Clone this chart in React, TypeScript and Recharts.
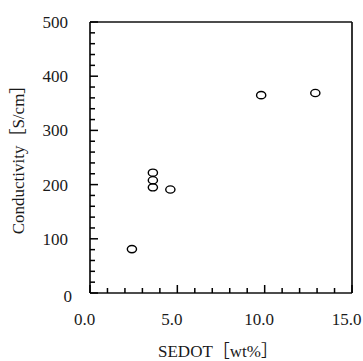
import React from "react";
import { ScatterChart, Scatter, XAxis, YAxis, ReferenceLine } from "recharts";

const sedot = [2.4, 3.6, 3.6, 3.6, 4.6, 9.8, 12.9];
const conductivity = [81, 222, 208, 195, 191, 365, 369];
const xTicks = [0, 1, 2, 3, 4, 5, 6, 7, 8, 9, 10, 11, 12, 13, 14, 15];
const xLabels = [0, 5, 10, 15];
const yTicks = [0, 20, 40, 60, 80, 100, 120, 140, 160, 180, 200, 220, 240, 260, 280, 300, 320, 340, 360, 380, 400, 420, 440, 460, 480, 500];
const yLabels = [0, 100, 200, 300, 400, 500];
const xMax = 15;
const yMax = 500;

const data = sedot.map((x, i) => ({ x, y: conductivity[i] }));

const FONT = "'Liberation Serif', 'Noto Sans CJK JP', serif";
const FS = 17;
const AXIS = { stroke: "#111", strokeWidth: 1.7 };

const XTick = (props: any) => {
  const { x, y, payload } = props;
  const v = payload.value;
  const major = xLabels.includes(v);
  return (
    <g>
      <rect x={x - 0.75} y={y - (major ? 8 : 5)} width={1.5} height={major ? 8 : 5} fill="#000" />
      {major && (
        <text x={x - 5.5} y={y + 32} textAnchor="middle" fontFamily={FONT} fontSize={FS} fill="#1a1a1a">
          {v.toFixed(1)}
        </text>
      )}
    </g>
  );
};

const YTick = (props: any) => {
  const { x, y, payload } = props;
  const v = payload.value;
  const major = yLabels.includes(v);
  const isZero = v === 0;
  return (
    <g>
      <rect x={x} y={y - 0.75} width={major ? 8 : 5} height={1.5} fill="#000" />
      {major && (
        <text
          x={isZero ? x - 18 : x - 22}
          y={isZero ? y + 9 : y + 6}
          textAnchor="end"
          fontFamily={FONT}
          fontSize={FS}
          fill="#1a1a1a"
        >
          {v}
        </text>
      )}
    </g>
  );
};

const Ring = (props: any) => {
  const { cx, cy } = props;
  return <ellipse cx={cx} cy={cy} rx={4.6} ry={3.6} fill="none" stroke="#000" strokeWidth={1.4} />;
};

export default function App() {
  return (
    <div style={{ position: "absolute", left: 0, top: 0, width: 363, height: 361, background: "#fff" }}>
      <ScatterChart width={363} height={361} margin={{ top: 22, right: 11, bottom: 8, left: 30 }}>
        <XAxis
          type="number"
          dataKey="x"
          domain={[0, xMax]}
          ticks={xTicks}
          interval={0}
          tickSize={0}
          tickMargin={0}
          tick={<XTick />}
          axisLine={AXIS}
          height={60}
          label={{
            value: "SEDOT［wt%］",
            position: "insideBottom",
            offset: -4,
            dx: -3,
            style: { fontFamily: FONT, fontSize: FS, fill: "#1a1a1a" },
          }}
        />
        <YAxis
          type="number"
          dataKey="y"
          domain={[0, yMax]}
          ticks={yTicks}
          interval={0}
          tickSize={0}
          tickMargin={0}
          tick={<YTick />}
          axisLine={AXIS}
          width={60}
          label={{
            value: "Conductivity［S/cm］",
            angle: -90,
            position: "insideLeft",
            offset: -12,
            dy: -2,
            style: { fontFamily: FONT, fontSize: FS, fill: "#1a1a1a", textAnchor: "middle" },
          }}
        />
        <ReferenceLine y={yMax} stroke="#111" strokeWidth={1.7} ifOverflow="visible" />
        <ReferenceLine x={xMax} stroke="#111" strokeWidth={1.7} ifOverflow="visible" />
        <Scatter data={data} shape={<Ring />} isAnimationActive={false} />
      </ScatterChart>
    </div>
  );
}
